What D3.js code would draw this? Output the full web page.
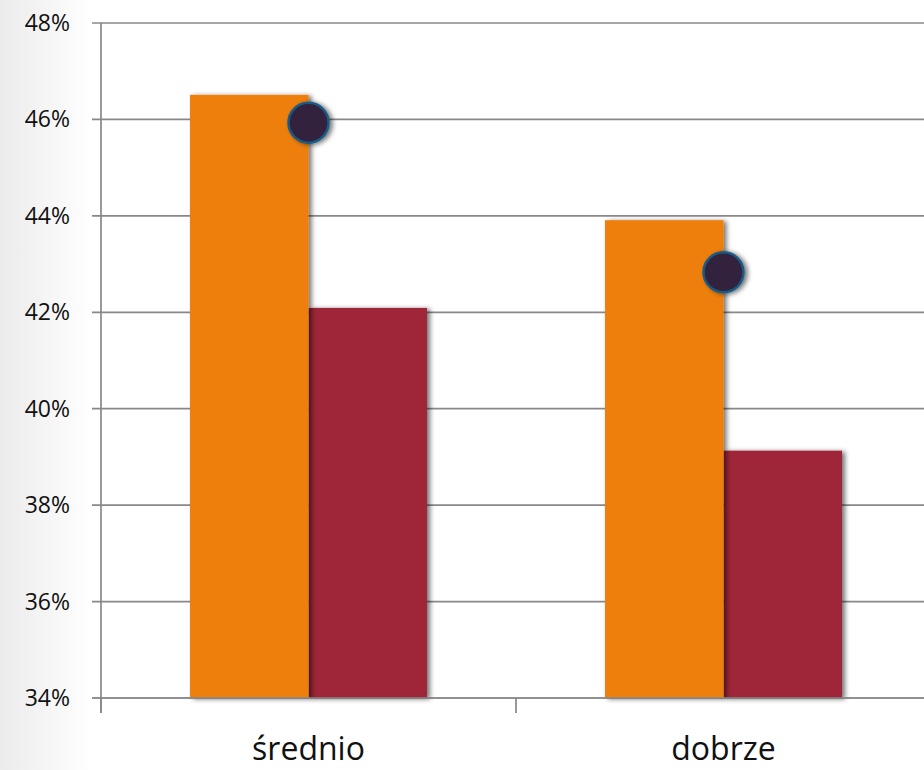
<!DOCTYPE html>
<html>
<head>
<meta charset="utf-8">
<script src="https://cdn.jsdelivr.net/npm/d3@7"></script>
<style>
  html, body { margin: 0; padding: 0; background: #fff; }
  svg { display: block; }
</style>
</head>
<body>
<div id="chart"></div>
<script>
const categories = ["średnio", "dobrze"];
const seriesA = [46.51, 43.91];   // orange bars
const seriesB = [42.09, 39.13];   // red bars
const markers = [45.93, 42.83];   // dark dots
const yTicks = [34, 36, 38, 40, 42, 44, 46, 48];

const width = 924, height = 770;
const margin = { top: 23, right: -7, bottom: 72, left: 101 };

const svg = d3.select("#chart").append("svg")
  .attr("width", width).attr("height", height);

const defs = svg.append("defs");
const bg = defs.append("linearGradient").attr("id", "bg").attr("x1", 0).attr("x2", 1);
bg.append("stop").attr("offset", 0).attr("stop-color", "#ebebeb");
bg.append("stop").attr("offset", 0.04).attr("stop-color", "#f3f3f3");
bg.append("stop").attr("offset", 0.1).attr("stop-color", "#ffffff");
bg.append("stop").attr("offset", 1).attr("stop-color", "#ffffff");

const shadow = defs.append("filter").attr("id", "shadow")
  .attr("x", "-20%").attr("y", "-20%").attr("width", "140%").attr("height", "140%");
shadow.append("feDropShadow").attr("dx", 3).attr("dy", 1).attr("stdDeviation", 2.5)
  .attr("flood-color", "#000").attr("flood-opacity", 0.55);

svg.append("rect").attr("width", width).attr("height", height).attr("fill", "url(#bg)");

const x0 = margin.left, x1 = width - margin.right;
const y = d3.scaleLinear().domain([34, 48]).range([height - margin.bottom, margin.top]);
const x = d3.scaleBand().domain(categories).range([x0, x1]).paddingInner(0.429).paddingOuter(0.2145);
const sub = d3.scaleBand().domain(["a", "b"]).range([0, x.bandwidth()]);

// gridlines + y ticks
svg.append("g").selectAll("line").data(yTicks).join("line")
  .attr("x1", x0 - 9).attr("x2", width)
  .attr("y1", d => y(d)).attr("y2", d => y(d))
  .attr("stroke", "#888").attr("stroke-width", 1.7);

svg.append("g").selectAll("text").data(yTicks).join("text")
  .attr("x", 70).attr("y", d => y(d)).attr("dy", "0.35em")
  .attr("text-anchor", "end")
  .style("font-family", "'Open Sans', sans-serif").style("font-size", "23px").style("fill", "#111")
  .text(d => d + "%");

// y axis line and category ticks
svg.append("line").attr("x1", x0).attr("x2", x0).attr("y1", y(48)).attr("y2", y(34) + 15)
  .attr("stroke", "#888").attr("stroke-width", 1.7);
const catTicks = [x0, x(categories[1]) - x.step() * x.paddingInner() / 2];
svg.append("g").selectAll("line").data(catTicks).join("line")
  .attr("x1", d => d).attr("x2", d => d).attr("y1", y(34)).attr("y2", y(34) + 15)
  .attr("stroke", "#888").attr("stroke-width", 1.7);

// bars
const bars = svg.append("g").attr("filter", "url(#shadow)");
bars.selectAll("rect.b").data(categories).join("rect").attr("class", "b")
  .attr("x", d => x(d) + sub("b")).attr("width", sub.bandwidth())
  .attr("y", (d, i) => y(seriesB[i])).attr("height", (d, i) => y(34) - y(seriesB[i]))
  .attr("fill", "#9e2837");
const barsA = svg.append("g").attr("filter", "url(#shadow)");
barsA.selectAll("rect.a").data(categories).join("rect").attr("class", "a")
  .attr("x", d => x(d) + sub("a")).attr("width", sub.bandwidth())
  .attr("y", (d, i) => y(seriesA[i])).attr("height", (d, i) => y(34) - y(seriesA[i]))
  .attr("fill", "#ee7f0b");

// redraw the baseline over bar bottoms
svg.append("line").attr("x1", x0 - 9).attr("x2", width).attr("y1", y(34)).attr("y2", y(34))
  .attr("stroke", "#888").attr("stroke-width", 1.7);

// markers
svg.append("g").attr("filter", "url(#shadow)")
  .selectAll("circle").data(categories).join("circle")
  .attr("cx", d => x(d) + x.bandwidth() / 2)
  .attr("cy", (d, i) => y(markers[i]))
  .attr("r", 20)
  .attr("fill", "#32243d").attr("stroke", "#1a5a86").attr("stroke-width", 2.5);

// category labels
svg.append("g").selectAll("text").data(categories).join("text")
  .attr("x", d => x(d) + x.bandwidth() / 2).attr("y", 760)
  .attr("text-anchor", "middle")
  .style("font-family", "'Open Sans', sans-serif").style("font-size", "32px").style("fill", "#111")
  .text(d => d);
</script>
</body>
</html>
